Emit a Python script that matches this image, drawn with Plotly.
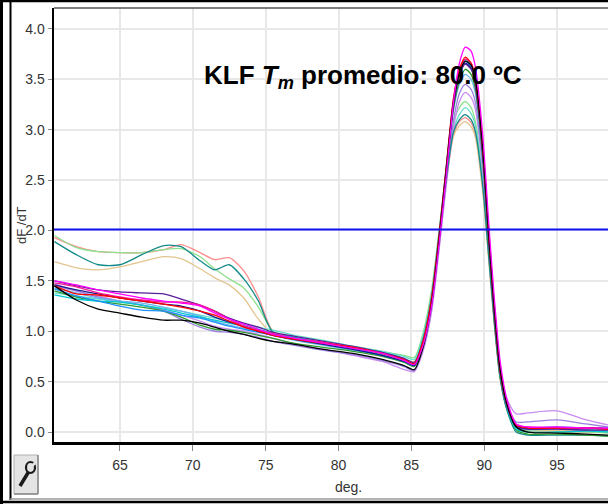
import plotly.graph_objects as go

# ---------------- data ----------------
temperature = [60.5, 62, 63.5, 65, 66.5, 68, 69.2, 70.5, 71.5, 72.5, 73.5, 74.5, 75.5, 77, 79, 81, 83, 84.5,
               85.2, 85.8, 86.4, 86.9, 87.4, 87.9, 88.3, 88.7, 89.1, 89.4, 89.9, 90.3, 90.7, 91.1, 91.6, 92.2,
               93, 95, 97, 98.5]

salmon = [1.93, 1.84, 1.79, 1.78, 1.78, 1.81, 1.86, 1.78, 1.71, 1.73, 1.60, 1.34, 1.00, 0.93, 0.88, 0.84, 0.78, 0.72,
          0.70, 0.93, 1.34, 1.92, 2.50, 2.95, 3.08, 3.12, 3.07, 2.96, 2.42, 1.76, 1.08, 0.54, 0.22, 0.03,
          0.01, 0.01, 0.00, 0.00]
tan = [1.69, 1.63, 1.61, 1.64, 1.69, 1.74, 1.72, 1.62, 1.53, 1.46, 1.33, 1.12, 0.97, 0.92, 0.87, 0.83, 0.77, 0.71,
       0.69, 0.92, 1.34, 1.92, 2.50, 2.94, 3.04, 3.08, 3.03, 2.92, 2.38, 1.72, 1.05, 0.52, 0.20, 0.03,
       0.01, 0.02, 0.01, 0.01]
light_green = [1.95, 1.83, 1.79, 1.78, 1.78, 1.81, 1.82, 1.74, 1.62, 1.52, 1.43, 1.24, 1.00, 0.94, 0.89, 0.85, 0.80, 0.76,
               0.74, 0.98, 1.42, 2.00, 2.60, 3.08, 3.22, 3.28, 3.22, 3.08, 2.52, 1.82, 1.12, 0.56, 0.22, 0.03,
               0.00, 0.00, 0.00, -0.01]
teal = [1.89, 1.76, 1.66, 1.66, 1.76, 1.85, 1.84, 1.70, 1.61, 1.66, 1.52, 1.30, 0.99, 0.92, 0.87, 0.83, 0.76, 0.70,
        0.68, 0.92, 1.34, 1.93, 2.52, 2.98, 3.10, 3.15, 3.10, 2.98, 2.44, 1.76, 1.08, 0.53, 0.20, 0.00,
        -0.03, -0.03, -0.03, -0.04]
aquamarine = [1.38, 1.35, 1.32, 1.29, 1.26, 1.23, 1.20, 1.16, 1.13, 1.10, 1.07, 1.04, 1.01, 0.96, 0.91, 0.85, 0.80, 0.75,
              0.72, 0.95, 1.36, 1.95, 2.55, 3.00, 3.15, 3.22, 3.16, 3.04, 2.50, 1.80, 1.10, 0.55, 0.22, 0.04,
              0.02, 0.03, 0.03, 0.02]
light_violet = [1.47, 1.40, 1.35, 1.30, 1.26, 1.21, 1.16, 1.10, 1.05, 1.02, 1.00, 0.97, 0.93, 0.87, 0.82, 0.76, 0.70, 0.62,
                0.60, 0.80, 1.20, 1.80, 2.45, 3.02, 3.28, 3.37, 3.32, 3.20, 2.60, 1.88, 1.18, 0.62, 0.32, 0.18,
                0.19, 0.21, 0.12, 0.07]
medium_purple = [1.45, 1.40, 1.34, 1.30, 1.26, 1.20, 1.12, 1.04, 1.00, 0.99, 0.97, 0.94, 0.90, 0.86, 0.81, 0.77, 0.71, 0.65,
                 0.61, 0.82, 1.24, 1.84, 2.50, 3.10, 3.36, 3.45, 3.40, 3.27, 2.64, 1.86, 1.14, 0.58, 0.26, 0.10,
                 0.10, 0.12, 0.08, 0.05]
sky_blue = [1.43, 1.38, 1.33, 1.30, 1.28, 1.24, 1.20, 1.15, 1.10, 1.06, 1.03, 1.00, 0.96, 0.91, 0.86, 0.81, 0.76, 0.70,
            0.67, 0.90, 1.34, 1.94, 2.60, 3.20, 3.45, 3.55, 3.50, 3.36, 2.70, 1.90, 1.15, 0.58, 0.24, 0.05,
            0.03, 0.03, 0.02, 0.02]
forest_green = [1.40, 1.34, 1.30, 1.27, 1.24, 1.20, 1.14, 1.06, 1.02, 1.01, 0.99, 0.96, 0.93, 0.88, 0.84, 0.80, 0.75, 0.69,
                0.65, 0.88, 1.30, 1.90, 2.58, 3.22, 3.48, 3.60, 3.55, 3.40, 2.72, 1.88, 1.12, 0.55, 0.22, 0.02,
                -0.02, -0.02, -0.03, -0.04]
turquoise = [1.36, 1.32, 1.30, 1.29, 1.26, 1.22, 1.18, 1.14, 1.11, 1.08, 1.05, 1.02, 0.98, 0.94, 0.89, 0.84, 0.79, 0.73,
             0.69, 0.92, 1.36, 1.96, 2.64, 3.30, 3.58, 3.70, 3.64, 3.49, 2.78, 1.92, 1.16, 0.57, 0.22, 0.03,
             0.00, 0.00, 0.01, 0.00]
dodger_blue = [1.42, 1.35, 1.30, 1.25, 1.21, 1.20, 1.16, 1.13, 1.09, 1.05, 1.02, 0.99, 0.96, 0.92, 0.87, 0.82, 0.76, 0.70,
               0.66, 0.88, 1.32, 1.93, 2.62, 3.28, 3.56, 3.68, 3.62, 3.47, 2.78, 1.94, 1.18, 0.60, 0.25, 0.06,
               0.04, 0.05, 0.04, 0.04]
navy = [1.46, 1.41, 1.37, 1.33, 1.30, 1.27, 1.25, 1.20, 1.14, 1.09, 1.05, 1.00, 0.96, 0.92, 0.87, 0.82, 0.76, 0.70,
        0.66, 0.88, 1.30, 1.92, 2.60, 3.26, 3.54, 3.66, 3.61, 3.46, 2.78, 1.95, 1.18, 0.60, 0.25, 0.06,
        0.03, 0.04, 0.04, 0.03]
dark_purple = [1.50, 1.45, 1.41, 1.39, 1.38, 1.37, 1.32, 1.26, 1.20, 1.13, 1.08, 1.04, 0.99, 0.95, 0.90, 0.85, 0.79, 0.73,
               0.69, 0.90, 1.32, 1.92, 2.60, 3.26, 3.54, 3.65, 3.60, 3.45, 2.76, 1.92, 1.16, 0.58, 0.24, 0.05,
               0.03, 0.03, 0.02, 0.02]
deep_pink = [1.48, 1.44, 1.38, 1.34, 1.31, 1.29, 1.29, 1.26, 1.20, 1.12, 1.05, 1.01, 0.98, 0.93, 0.89, 0.84, 0.78, 0.71,
             0.67, 0.88, 1.30, 1.90, 2.60, 3.30, 3.58, 3.70, 3.66, 3.52, 2.86, 2.02, 1.26, 0.66, 0.28, 0.07,
             0.05, 0.04, 0.04, 0.03]
red = [1.45, 1.37, 1.36, 1.33, 1.30, 1.27, 1.24, 1.20, 1.16, 1.10, 1.04, 1.00, 0.96, 0.92, 0.88, 0.84, 0.78, 0.72,
       0.68, 0.90, 1.34, 1.95, 2.64, 3.32, 3.60, 3.72, 3.66, 3.50, 2.80, 1.96, 1.20, 0.60, 0.26, 0.07,
       0.04, 0.04, 0.04, 0.03]
black = [1.45, 1.31, 1.22, 1.18, 1.14, 1.11, 1.11, 1.08, 1.04, 1.00, 0.97, 0.93, 0.90, 0.87, 0.82, 0.78, 0.72, 0.66,
         0.62, 0.84, 1.28, 1.90, 2.60, 3.28, 3.56, 3.68, 3.64, 3.50, 2.82, 1.98, 1.22, 0.62, 0.26, 0.05,
         0.00, -0.01, -0.02, -0.03]
magenta = [1.50, 1.46, 1.41, 1.37, 1.33, 1.30, 1.28, 1.25, 1.18, 1.12, 1.07, 1.02, 0.97, 0.93, 0.88, 0.83, 0.78, 0.71,
           0.67, 0.86, 1.26, 1.86, 2.55, 3.28, 3.66, 3.82, 3.78, 3.62, 2.95, 2.10, 1.32, 0.70, 0.30, 0.08,
           0.05, 0.05, 0.04, 0.04]

series = [
    ("salmon", salmon, "#ff8c8c"),
    ("tan", tan, "#e3c58f"),
    ("light_green", light_green, "#8fe08f"),
    ("aquamarine", aquamarine, "#66e0c8"),
    ("light_violet", light_violet, "#c98cf0"),
    ("medium_purple", medium_purple, "#9a7fe0"),
    ("sky_blue", sky_blue, "#6cb4ee"),
    ("teal", teal, "#138a8a"),
    ("forest_green", forest_green, "#2e9b2e"),
    ("turquoise", turquoise, "#00c8d0"),
    ("dodger_blue", dodger_blue, "#1e90ff"),
    ("navy", navy, "#1a1a8c"),
    ("dark_purple", dark_purple, "#5a1d9a"),
    ("deep_pink", deep_pink, "#ff1493"),
    ("red", red, "#ff0000"),
    ("black", black, "#000000"),
    ("magenta", magenta, "#ff00ff"),
]

threshold = 2.01
x_ticks = [65, 70, 75, 80, 85, 90, 95]
y_ticks = [0.0, 0.5, 1.0, 1.5, 2.0, 2.5, 3.0, 3.5, 4.0]
title_text = "<b>KLF <i>T<sub>m</sub></i> promedio: 80.0 ºC</b>"
x_title = "deg."
y_title = "dF /dT"

# ---------------- layout geometry ----------------
W, H = 608, 504
ML, MR, MT, MB = 54, 0, 8, 62
PW, PH = W - ML - MR, H - MT - MB


def px(xp):
    return (xp - ML) / PW


def py(yp):
    return 1 - (yp - MT) / PH


fig = go.Figure()
for name, vals, col in series:
    fig.add_trace(go.Scatter(x=temperature, y=vals, mode="lines", name=name,
                             line=dict(color=col, width=1.3, shape="spline", smoothing=0.7),
                             hoverinfo="skip"))

shapes = [
    # threshold line
    dict(type="line", xref="paper", yref="y", x0=0, x1=1, y0=threshold, y1=threshold,
         line=dict(color="#1010f0", width=1.8)),
    # plot top frame
    dict(type="line", xref="paper", yref="paper", x0=0, x1=1, y0=1, y1=1,
         line=dict(color="#555555", width=1.5)),
    # outer window borders
    dict(type="line", xref="paper", yref="paper", x0=px(1.5), x1=px(1.5), y0=py(0), y1=py(504),
         line=dict(color="#000000", width=3)),
    dict(type="line", xref="paper", yref="paper", x0=px(0), x1=px(608), y0=py(1), y1=py(1),
         line=dict(color="#000000", width=2.5)),
    dict(type="line", xref="paper", yref="paper", x0=px(10.5), x1=px(10.5), y0=py(2), y1=py(500),
         line=dict(color="#000000", width=2)),
    dict(type="line", xref="paper", yref="paper", x0=px(10), x1=px(608), y0=py(499), y1=py(499),
         line=dict(color="#9a9a9a", width=1.5)),
    dict(type="line", xref="paper", yref="paper", x0=px(0), x1=px(608), y0=py(502), y1=py(502),
         line=dict(color="#000000", width=2.5)),
    # wrench button
    dict(type="rect", xref="paper", yref="paper", x0=px(14), x1=px(38), y0=py(494), y1=py(455),
         fillcolor="#e4e4e4", line=dict(color="#b0b0b0", width=1)),
    dict(type="line", xref="paper", yref="paper", x0=px(38), x1=px(38), y0=py(494), y1=py(455),
         line=dict(color="#8a8a8a", width=1.5)),
    dict(type="line", xref="paper", yref="paper", x0=px(14), x1=px(38), y0=py(494), y1=py(494),
         line=dict(color="#8a8a8a", width=1.5)),
    dict(type="line", xref="paper", yref="paper", x0=px(20), x1=px(28.5), y0=py(486), y1=py(472),
         line=dict(color="#1a1a1a", width=3.5)),
    dict(type="circle", xref="paper", yref="paper", x0=px(26), x1=px(35), y0=py(473), y1=py(462),
         line=dict(color="#1a1a1a", width=2.2)),
    dict(type="line", xref="paper", yref="paper", x0=px(31), x1=px(35), y0=py(467), y1=py(463),
         line=dict(color="#e4e4e4", width=2.5)),
]

annotations = [
    dict(text=title_text, xref="paper", yref="paper", x=px(363), y=py(76), xanchor="center", yanchor="middle",
         showarrow=False, font=dict(family="Liberation Sans, Arial, sans-serif", size=26, color="#000000")),
    dict(text=x_title, xref="paper", yref="paper", x=px(348), y=py(487), xanchor="center", yanchor="middle",
         showarrow=False, font=dict(family="Liberation Sans, Arial, sans-serif", size=14, color="#333333")),
    dict(text=y_title, xref="paper", yref="paper", x=px(21), y=py(225), xanchor="center", yanchor="middle",
         textangle=-90, showarrow=False,
         font=dict(family="Liberation Sans, Arial, sans-serif", size=13, color="#333333")),
]

fig.update_layout(
    width=W, height=H,
    margin=dict(l=ML, r=MR, t=MT, b=MB, pad=0),
    paper_bgcolor="white", plot_bgcolor="white",
    showlegend=False,
    shapes=shapes,
    annotations=annotations,
    font=dict(family="Liberation Sans, Arial, sans-serif", size=14, color="#333333"),
    xaxis=dict(range=[60.47, 98.5], tickvals=x_ticks, ticktext=[str(v) for v in x_ticks],
               showgrid=True, gridcolor="#e8e8e8", gridwidth=2,
               showline=True, linecolor="#000000", linewidth=2.5,
               ticks="outside", ticklen=6, tickcolor="#888888", tickwidth=1,
               ticklabelstandoff=3, zeroline=False,
               tickfont=dict(size=14, color="#333333")),
    yaxis=dict(range=[-0.099, 4.208], tickvals=y_ticks, ticktext=[f"{v:.1f}" for v in y_ticks],
               showgrid=True, gridcolor="#e8e8e8", gridwidth=2,
               showline=True, linecolor="#000000", linewidth=2.5,
               ticks="outside", ticklen=4, tickcolor="#888888", tickwidth=1,
               ticklabelstandoff=0, zeroline=False,
               tickfont=dict(size=14, color="#333333")),
)

fig.write_html("out.html", config={"displayModeBar": False, "staticPlot": True},
               post_script="document.body.style.margin='0';document.body.style.overflow='hidden';")
